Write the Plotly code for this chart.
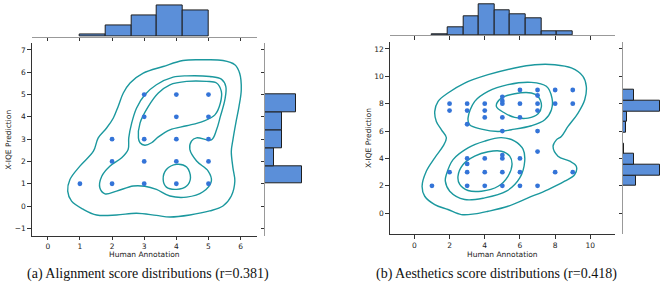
import plotly.graph_objects as go

W, H = 664, 291

# ---------------- (a) Alignment ----------------
a_pts_x = [1, 2, 2, 2, 3, 3, 3, 3, 3, 4, 4, 4, 4, 4, 5, 5, 5, 5, 5]
a_pts_y = [1, 1, 2, 3, 1, 2, 3, 4, 5, 1, 2, 3, 4, 5, 1, 2, 3, 4, 5]
a_bins = [1.0, 1.8, 2.6, 3.4, 4.2, 5.0]
a_xcounts = [2, 11, 21, 32, 27]
a_ycounts = [31, 8, 14, 14, 26]

a_c1_x = [4.21, 4.83, 5.45, 5.82, 5.97, 6.02, 5.95, 5.85, 5.76, 5.71, 5.76, 5.82, 5.71, 5.45, 5.04, 4.42, 3.80, 3.38,
          2.76, 2.14, 1.52, 1.11, 0.74, 0.62, 0.69, 1.00, 1.42, 1.57, 1.83, 2.04, 2.19, 2.35, 2.56, 2.97, 3.59]
a_c1_y = [6.53, 6.56, 6.53, 6.34, 5.96, 5.22, 4.47, 3.72, 2.97, 2.46, 1.72, 1.12, 0.45, 0.00, -0.22, -0.40, -0.49, -0.42,
          -0.32, -0.40, -0.40, -0.15, 0.22, 0.67, 1.19, 1.79, 2.46, 3.06, 3.50, 3.95, 4.47, 5.07, 5.52, 5.96, 6.26]
a_c2_x = [4.32, 5.04, 5.40, 5.54, 5.51, 5.37, 5.25, 5.09, 4.63, 4.47, 4.42, 4.63, 4.99, 5.09, 4.83, 4.32, 3.80, 3.38,
          3.02, 2.66, 2.14, 1.78, 1.62, 1.68, 1.93, 2.30, 2.50, 2.52, 2.61, 2.76, 3.02, 3.38, 3.90]
a_c2_y = [5.84, 5.81, 5.69, 5.36, 4.77, 4.02, 3.42, 2.97, 3.06, 2.91, 2.54, 2.02, 1.57, 1.12, 0.64, 0.40, 0.45, 0.75,
          0.89, 0.90, 0.67, 0.55, 0.82, 1.34, 1.79, 2.17, 2.54, 3.06, 3.72, 4.39, 4.99, 5.44, 5.78]
a_c3_x = [4.32, 4.94, 5.25, 5.40, 5.37, 5.20, 4.83, 4.32, 3.80, 3.44, 3.23, 3.02, 2.87, 2.82, 2.87, 3.13, 3.44, 3.80]
a_c3_y = [5.59, 5.59, 5.52, 5.14, 4.62, 4.09, 3.80, 3.60, 3.42, 3.10, 2.84, 2.73, 2.84, 3.06, 3.72, 4.47, 5.07, 5.44]
a_c4_x = [4.01, 4.32, 4.44, 4.32, 4.01, 3.69, 3.59, 3.69]
a_c4_y = [1.87, 1.75, 1.27, 0.90, 0.75, 0.85, 1.20, 1.64]

# ---------------- (b) Aesthetics ----------------
b_pts_x = [6, 7, 8, 9, 7, 5, 5, 2, 3, 4, 5, 6, 7, 8, 9, 2, 3, 4, 7, 4, 5, 6, 3, 5, 7,
           7, 5, 3, 4, 5, 6, 3, 2, 3, 4, 5, 6, 8, 9, 1, 3, 4, 5, 6, 7]
b_pts_y = [9, 9, 9, 9, 8.6, 8.5, 8.2, 8, 8, 8, 8, 8, 8, 8, 8, 7.5, 7.5, 7.5, 7.5, 7, 7, 7, 6.5, 6, 6,
           4.5, 4.25, 4, 4, 4, 4, 3.6, 3, 3, 3, 3, 3, 3, 3, 2, 2, 2, 2, 2, 2]
b_bins = [1 + 8 * k / 9 for k in range(10)]
b_xcounts = [1, 7, 17, 28, 22, 19, 15, 3, 3]
b_ybins = [2 + 7 * k / 9 for k in range(10)]
b_ycounts = [13, 36, 11, 1, 0, 3, 4, 36, 11]

b_c1_x = [1.16, 1.35, 1.91, 2.86, 4.19, 5.70, 6.84, 7.98, 8.92, 9.58, 9.77, 9.68, 9.30, 8.73, 8.35, 8.07, 7.88, 8.16,
          8.83, 9.20, 9.11, 8.54, 7.60, 6.46, 5.32, 4.19, 3.43, 2.67, 1.91, 1.16, 0.59, 0.44, 0.68, 1.16, 1.63, 1.82,
          1.54, 1.25]
b_c1_y = [7.44, 8.17, 8.78, 9.51, 10.12, 10.61, 10.85, 10.85, 10.61, 10.00, 9.27, 8.29, 7.32, 6.34, 5.61, 5.36, 4.90,
          4.17, 3.80, 3.44, 2.82, 2.34, 1.73, 1.12, 0.51, 0.14, -0.05, -0.10, 0.27, 0.63, 1.24, 1.97, 3.07, 4.05, 4.90,
          5.51, 6.09, 6.70]
b_c2_x = [3.05, 3.43, 4.19, 5.32, 6.65, 7.50, 7.82, 7.79, 7.41, 6.65, 5.51, 4.75, 3.81, 3.14]
b_c2_y = [6.95, 8.17, 8.90, 9.39, 9.56, 9.27, 8.41, 7.56, 6.83, 6.39, 6.10, 5.97, 6.14, 6.46]
b_c3_x = [4.66, 4.94, 5.70, 6.65, 7.03, 7.22, 7.03, 6.46, 5.70, 5.13]
b_c3_y = [7.80, 8.41, 8.73, 8.78, 8.53, 7.80, 7.27, 6.95, 7.00, 7.32]
b_c4_x = [1.76, 1.82, 2.20, 3.05, 4.00, 4.94, 5.70, 6.18, 6.27, 5.99, 5.23, 4.00, 2.86, 2.01]
b_c4_y = [2.34, 2.83, 3.92, 4.78, 5.27, 5.52, 5.27, 4.66, 3.80, 2.58, 1.61, 1.12, 1.00, 1.61]
b_c5_x = [2.48, 2.77, 3.43, 4.19, 4.94, 5.42, 5.55, 5.32, 4.76, 3.81, 3.05, 2.58]
b_c5_y = [2.70, 3.56, 4.17, 4.49, 4.53, 4.17, 3.56, 2.70, 1.97, 1.61, 1.66, 2.10]

a_xticks = [0, 1, 2, 3, 4, 5, 6]
a_yticks = [-1, 0, 1, 2, 3, 4, 5, 6, 7]
b_xticks = [0, 2, 4, 6, 8, 10]
b_yticks = [0, 2, 4, 6, 8, 10, 12]
captions = ["(a) Alignment score distributions (r=0.381)", "(b) Aesthetics score distributions (r=0.418)"]
x_title = "Human Annotation"
y_title = "X-IQE Prediction"

DOT = "#3474d8"
BAR = "#5b8fd9"
EDGE = "#1e1e1e"
TEAL = "#1b989e"
SPINE = "#333333"
MSPINE = "#999999"
FONT = "DejaVu Sans"


def fx(px):
    return px / W


def fy(py):
    return 1 - py / H


def lab(v):
    return str(v).replace("-", "\u2212")


fig = go.Figure()

panels = [
    dict(px=a_pts_x, py=a_pts_y, xb=a_bins, yb=a_bins, xc=a_xcounts, yc=a_ycounts,
         cont=[(a_c1_x, a_c1_y), (a_c2_x, a_c2_y), (a_c3_x, a_c3_y), (a_c4_x, a_c4_y)],
         xt=a_xticks, yt=a_yticks, xr=[-0.5, 6.5], yr=[-1.33, 7.3],
         main=(31.7, 256.7, 43.3, 235.7), top=(3.45, 36.7), right=(265, 303.5),
         ytx=8.3, cap_x=148),
    dict(px=b_pts_x, py=b_pts_y, xb=b_bins, yb=b_ybins, xc=b_xcounts, yc=b_ycounts,
         cont=[(b_c1_x, b_c1_y), (b_c2_x, b_c2_y), (b_c3_x, b_c3_y), (b_c4_x, b_c4_y), (b_c5_x, b_c5_y)],
         xt=b_xticks, yt=b_yticks, xr=[-1.4, 11.4], yr=[-1.54, 12.53],
         main=(389.7, 615, 41.7, 234.3), top=(2.3, 35), right=(623, 661.5),
         ytx=368, cap_x=496),
]

layout = dict(width=W, height=H, margin=dict(l=0, r=0, t=0, b=0),
              paper_bgcolor="white", plot_bgcolor="white", showlegend=False,
              bargap=0, annotations=[])

for i, p in enumerate(panels):
    n = 3 * i
    mx, my = ("x" if n == 0 else f"x{n+1}"), ("y" if n == 0 else f"y{n+1}")
    tx, ty = f"x{n+2}", f"y{n+2}"
    rx, ry = f"x{n+3}", f"y{n+3}"
    l, r, t, b = p["main"]

    # contours
    for cx, cy in p["cont"]:
        fig.add_trace(go.Scatter(x=list(cx) + [cx[0]], y=list(cy) + [cy[0]], mode="lines",
                                 line=dict(color=TEAL, width=1.4, shape="spline", smoothing=1.0),
                                 xaxis=mx, yaxis=my, hoverinfo="skip"))
    # points
    fig.add_trace(go.Scatter(x=p["px"], y=p["py"], mode="markers",
                             marker=dict(color=DOT, size=4.8, line=dict(width=0)),
                             xaxis=mx, yaxis=my))
    # top histogram
    xb = p["xb"]
    fig.add_trace(go.Bar(x=[(xb[k] + xb[k + 1]) / 2 for k in range(len(xb) - 1)], y=p["xc"],
                         width=[xb[k + 1] - xb[k] for k in range(len(xb) - 1)],
                         marker=dict(color=BAR, line=dict(color=EDGE, width=1)),
                         xaxis=tx, yaxis=ty))
    # right histogram
    yb = p["yb"]
    fig.add_trace(go.Bar(y=[(yb[k] + yb[k + 1]) / 2 for k in range(len(yb) - 1)], x=p["yc"],
                         width=[yb[k + 1] - yb[k] for k in range(len(yb) - 1)], orientation="h",
                         marker=dict(color=BAR, line=dict(color=EDGE, width=1)),
                         xaxis=rx, yaxis=ry))

    tickfont = dict(family=FONT, size=7.5, color="#222222")
    common_tick = dict(ticks="outside", ticklen=3.5, tickwidth=0.8, showgrid=False, zeroline=False)
    key = lambda a, s: a + ("" if s == 1 else str(s))

    layout[key("xaxis", n + 1)] = dict(domain=[fx(l), fx(r)], range=p["xr"], anchor=my,
                                       tickvals=p["xt"], ticktext=[lab(v) for v in p["xt"]],
                                       tickfont=tickfont, showline=True, linecolor=SPINE, linewidth=1,
                                       tickcolor=SPINE, **common_tick)
    layout[key("yaxis", n + 1)] = dict(domain=[fy(b), fy(t)], range=p["yr"], anchor=mx,
                                       tickvals=p["yt"], ticktext=[lab(v) for v in p["yt"]],
                                       tickfont=tickfont, showline=True, linecolor=SPINE, linewidth=1,
                                       tickcolor=SPINE, **common_tick)
    # top marginal
    layout[key("xaxis", n + 2)] = dict(domain=[fx(l), fx(r)], range=p["xr"], anchor=ty,
                                       tickvals=p["xt"], showticklabels=False, showline=True,
                                       linecolor=MSPINE, linewidth=1, tickcolor=SPINE, **common_tick)
    layout[key("yaxis", n + 2)] = dict(domain=[fy(p["top"][1]), fy(p["top"][0])],
                                       range=[0, max(p["xc"]) * 1.05], anchor=tx, visible=False)
    # right marginal
    layout[key("xaxis", n + 3)] = dict(domain=[fx(p["right"][0]), fx(p["right"][1])],
                                       range=[0, max(p["yc"]) * 1.05], anchor=ry, visible=False)
    layout[key("yaxis", n + 3)] = dict(domain=[fy(b), fy(t)], range=p["yr"], anchor=rx,
                                       tickvals=p["yt"], showticklabels=False, showline=True,
                                       linecolor=MSPINE, linewidth=1, tickcolor=SPINE, **common_tick)

    layout["annotations"] += [
        dict(text=x_title, x=fx((l + r) / 2), y=fy(254), xref="paper", yref="paper",
             xanchor="center", yanchor="middle", showarrow=False,
             font=dict(family=FONT, size=7.5, color="#222222")),
        dict(text=y_title, x=fx(p["ytx"]), y=fy((t + b) / 2), xref="paper", yref="paper",
             xanchor="center", yanchor="middle", showarrow=False, textangle=-90,
             font=dict(family=FONT, size=7.5, color="#222222")),
        dict(text=captions[i], x=fx(p["cap_x"]), y=fy(274), xref="paper", yref="paper",
             xanchor="center", yanchor="middle", showarrow=False,
             font=dict(family="Liberation Serif", size=14, color="#111111")),
    ]

fig.update_layout(**layout)
fig.write_html("out.html", config={"displayModeBar": False},
               post_script="document.body.style.margin='0';document.body.style.overflow='hidden';")
